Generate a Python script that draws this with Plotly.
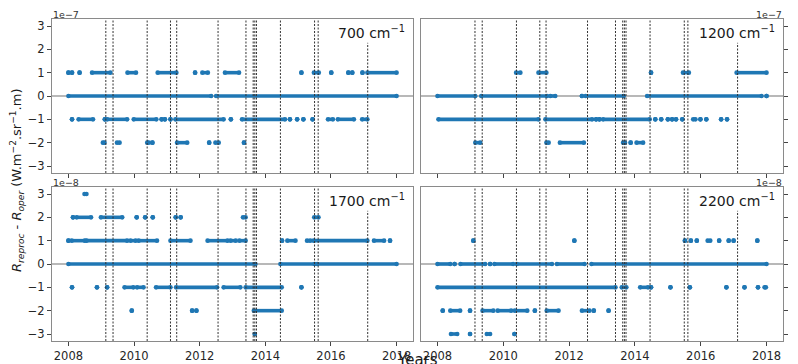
import plotly.graph_objects as go

# ---------------- data ----------------
year_ticks = [2008, 2010, 2012, 2014, 2016, 2018]
level_ticks = [-3, -2, -1, 0, 1, 2, 3]

# dates of the vertical dotted event lines (decimal years)
event_years = [2009.14, 2009.36, 2010.40, 2011.11, 2011.30, 2012.56, 2013.41,
               2013.63, 2013.68, 2013.73, 2014.46, 2015.50, 2015.61]
short_event_year = 2017.12
short_event_top = 2.28

# runs of daily differences per level: (start, end) in decimal years
# 700 cm-1, levels in units of 1e-7
r700_p1 = [(2008.00, 2008.00), (2008.11, 2008.11), (2008.34, 2008.34), (2008.72, 2009.28),
           (2009.80, 2010.06), (2010.72, 2011.29), (2011.86, 2011.86), (2012.08, 2012.25),
           (2012.77, 2013.20), (2015.10, 2015.10), (2015.48, 2015.63), (2016.01, 2016.01),
           (2016.53, 2016.53), (2016.65, 2016.65), (2016.96, 2016.96), (2017.11, 2018.00)]
r700_0 = [(2008.00, 2012.35), (2012.50, 2018.00)]
r700_m1 = [(2008.11, 2008.11), (2008.31, 2008.75), (2009.11, 2009.11), (2009.18, 2009.79),
           (2009.99, 2010.68), (2010.84, 2010.84), (2010.94, 2010.94), (2011.11, 2011.11),
           (2011.26, 2012.73), (2012.95, 2012.95), (2013.29, 2014.60), (2014.75, 2014.75),
           (2014.97, 2014.97), (2015.16, 2015.16), (2015.44, 2015.44), (2015.91, 2016.06),
           (2016.21, 2016.70), (2016.95, 2017.11)]
r700_m2 = [(2009.05, 2009.10), (2009.48, 2009.56), (2010.40, 2010.45), (2010.56, 2010.56),
           (2011.31, 2011.62), (2012.29, 2012.29), (2012.48, 2012.58), (2013.35, 2013.35)]

# 1200 cm-1, levels in units of 1e-7
r1200_p1 = [(2010.39, 2010.52), (2011.07, 2011.31), (2014.49, 2014.49), (2015.46, 2015.64),
            (2017.09, 2018.00)]
r1200_0 = [(2008.00, 2009.15), (2009.33, 2011.33), (2011.43, 2011.58), (2012.39, 2012.39),
           (2012.50, 2013.66), (2014.37, 2017.85), (2018.00, 2018.00)]
r1200_m1 = [(2008.03, 2011.07), (2011.28, 2012.70), (2012.82, 2012.82), (2012.92, 2012.92),
            (2013.03, 2014.45), (2014.62, 2014.62), (2014.80, 2014.80), (2015.00, 2015.00),
            (2015.13, 2015.13), (2015.25, 2015.25), (2015.44, 2015.44), (2015.77, 2015.84),
            (2015.99, 2015.99), (2016.17, 2016.17), (2016.62, 2016.62), (2016.80, 2016.80)]
r1200_m2 = [(2009.15, 2009.30), (2011.31, 2011.38), (2011.72, 2012.45), (2013.64, 2013.70),
            (2013.87, 2013.87), (2014.05, 2014.25)]

# 1700 cm-1, levels in units of 1e-8
r1700_p3 = [(2008.49, 2008.55)]
r1700_p2 = [(2008.14, 2008.14), (2008.25, 2008.69), (2008.99, 2009.64), (2010.08, 2010.08),
            (2010.34, 2010.34), (2010.57, 2010.57), (2011.27, 2011.27), (2011.42, 2011.42),
            (2013.32, 2013.40), (2015.49, 2015.62)]
r1700_p1 = [(2008.00, 2008.00), (2008.10, 2008.50), (2008.55, 2009.79), (2009.89, 2010.05),
            (2010.14, 2010.70), (2011.11, 2011.72), (2012.24, 2012.85), (2012.94, 2013.10),
            (2013.21, 2013.40), (2014.51, 2014.51), (2014.67, 2014.92), (2015.27, 2015.37),
            (2015.47, 2017.11), (2017.31, 2017.62), (2017.80, 2017.80)]
r1700_0 = [(2008.00, 2013.70), (2014.46, 2015.50), (2015.58, 2018.00)]
r1700_m1 = [(2008.11, 2008.11), (2008.87, 2008.87), (2009.18, 2009.18), (2009.71, 2009.98),
            (2010.09, 2010.29), (2010.67, 2011.11), (2011.28, 2012.53), (2012.73, 2013.24),
            (2013.40, 2014.50), (2015.10, 2015.10)]
r1700_m2 = [(2009.93, 2009.93), (2011.77, 2011.77), (2011.90, 2011.90), (2013.65, 2014.50)]
r1700_m3 = [(2013.68, 2013.68)]

# 2200 cm-1, levels in units of 1e-8
r2200_p1 = [(2009.09, 2009.09), (2012.16, 2012.16), (2015.52, 2015.52), (2015.70, 2015.70),
            (2015.88, 2015.88), (2016.21, 2016.29), (2016.56, 2016.56), (2016.85, 2016.85),
            (2017.00, 2017.00), (2017.72, 2017.72)]
r2200_0 = [(2008.00, 2008.39), (2008.52, 2008.52), (2008.70, 2009.45), (2009.60, 2009.60),
           (2009.73, 2010.30), (2010.41, 2011.48), (2011.63, 2012.47), (2012.68, 2018.00)]
r2200_m1 = [(2008.00, 2013.41), (2013.60, 2013.74), (2014.16, 2014.40), (2014.49, 2014.49),
            (2015.08, 2015.08), (2015.67, 2015.67), (2016.78, 2016.78), (2017.33, 2017.33),
            (2017.74, 2017.74), (2017.94, 2017.98)]
r2200_m2 = [(2008.16, 2008.16), (2008.39, 2008.69), (2008.99, 2008.99), (2009.37, 2009.70),
            (2009.83, 2010.24), (2010.35, 2010.73), (2010.96, 2010.96), (2011.32, 2011.68),
            (2012.39, 2012.62), (2012.75, 2012.75), (2013.20, 2013.20)]
r2200_m3 = [(2008.41, 2008.60), (2008.99, 2008.99), (2009.50, 2009.60), (2010.34, 2010.34)]

channels = ["700 cm<sup>−1</sup>", "1200 cm<sup>−1</sup>", "1700 cm<sup>−1</sup>", "2200 cm<sup>−1</sup>"]
scales = ["1e−7", "1e−7", "1e−8", "1e−8"]
panel_runs = [
    {1: r700_p1, 0: r700_0, -1: r700_m1, -2: r700_m2},
    {1: r1200_p1, 0: r1200_0, -1: r1200_m1, -2: r1200_m2},
    {3: r1700_p3, 2: r1700_p2, 1: r1700_p1, 0: r1700_0, -1: r1700_m1, -2: r1700_m2, -3: r1700_m3},
    {1: r2200_p1, 0: r2200_0, -1: r2200_m1, -2: r2200_m2, -3: r2200_m3},
]

# ---------------- layout geometry ----------------
W, H = 798, 364
OFF = 8  # the page body adds an 8px margin; positions below are window pixels
xdoms = [(52, 413), (421, 783), (52, 413), (421, 783)]
ydoms = [(19, 173), (19, 173), (187, 341), (187, 341)]
BLUE = "#1f77b4"
FONT = "DejaVu Sans"


def px(x):
    return (x - OFF) / W


def py(y):
    return 1 - (y - OFF) / H


fig = go.Figure()
layout = dict(width=W, height=H, margin=dict(l=0, r=0, t=0, b=0, autoexpand=False),
              paper_bgcolor="white", plot_bgcolor="white", showlegend=False,
              template="none")
shapes = []
annotations = []

for i in range(4):
    sfx = "" if i == 0 else str(i + 1)
    xs, ys = [], []
    for lvl, runs in panel_runs[i].items():
        for s, e in runs:
            xs += [s, e, None]
            ys += [lvl, lvl, None]
    fig.add_trace(go.Scatter(
        x=xs, y=ys, mode="lines+markers", xaxis=f"x{sfx}", yaxis=f"y{sfx}",
        line=dict(color=BLUE, width=3.6), marker=dict(color=BLUE, size=4.6),
        hoverinfo="skip", connectgaps=False))

    x0, x1 = xdoms[i]
    yt, yb = ydoms[i]
    right = (i % 2 == 1)
    bottom = (i >= 2)
    layout[f"xaxis{sfx}"] = dict(
        domain=[px(x0), px(x1)], range=[2007.5, 2018.5], anchor=f"y{sfx}",
        automargin=False, ticklabeloverflow="allow",
        tickvals=year_ticks, showticklabels=bottom, ticks="outside", ticklen=4,
        tickcolor="#444", showline=True, mirror=True, linecolor="#8a8a8a", linewidth=1.2,
        showgrid=False, zeroline=False,
        tickfont=dict(family=FONT, size=11.5, color="#262626"))
    layout[f"yaxis{sfx}"] = dict(
        domain=[py(yb), py(yt)], range=[-3.3, 3.3], anchor=f"x{sfx}",
        automargin=False, ticklabeloverflow="allow",
        side="right" if right else "left",
        tickvals=level_ticks, ticks="outside", ticklen=4, tickcolor="#444",
        showline=True, mirror=True, linecolor="#8a8a8a", linewidth=1.2,
        showgrid=False, zeroline=True, zerolinecolor="#b8b8b8", zerolinewidth=1.5,
        tickfont=dict(family=FONT, size=11.5, color="#262626"))

    for ev in event_years:
        shapes.append(dict(type="line", xref=f"x{sfx}", yref=f"y{sfx} domain",
                           x0=ev, x1=ev, y0=0, y1=1, layer="above",
                           line=dict(color="#333", width=1, dash="2px,1.5px")))
    shapes.append(dict(type="line", xref=f"x{sfx}", yref=f"y{sfx}",
                       x0=short_event_year, x1=short_event_year, y0=-3.3, y1=short_event_top,
                       layer="above", line=dict(color="#333", width=1, dash="2px,1.5px")))

    # channel label
    annotations.append(dict(text=channels[i], x=px(x1 - 6), y=py(yt + 13),
                            xref="paper", yref="paper", xanchor="right", yanchor="middle",
                            showarrow=False, font=dict(family=FONT, size=14, color="#1a1a1a")))
    # offset text
    annotations.append(dict(text=scales[i], x=px(x1 if right else x0), y=py(yt - 4.5),
                            xref="paper", yref="paper", borderpad=0,
                            xanchor="right" if right else "left", yanchor="middle",
                            showarrow=False, font=dict(family=FONT, size=9.5, color="#333")))

annotations.append(dict(
    text="<i>R</i><sub><i>reproc</i></sub> - <i>R</i><sub><i>oper</i></sub> (W.m<sup>−2</sup>.sr<sup>−1</sup>.m)",
    x=px(17), y=py(181), xref="paper", yref="paper", textangle=-90,
    xanchor="center", yanchor="middle", showarrow=False,
    font=dict(family=FONT, size=13, color="#1a1a1a")))
annotations.append(dict(text="Years", x=px(417), y=py(349), xref="paper", yref="paper",
                        xanchor="center", yanchor="top", showarrow=False,
                        font=dict(family=FONT, size=15, color="#1a1a1a")))

layout["shapes"] = shapes
layout["annotations"] = annotations
fig.update_layout(**layout)
fig.write_html("out.html")
